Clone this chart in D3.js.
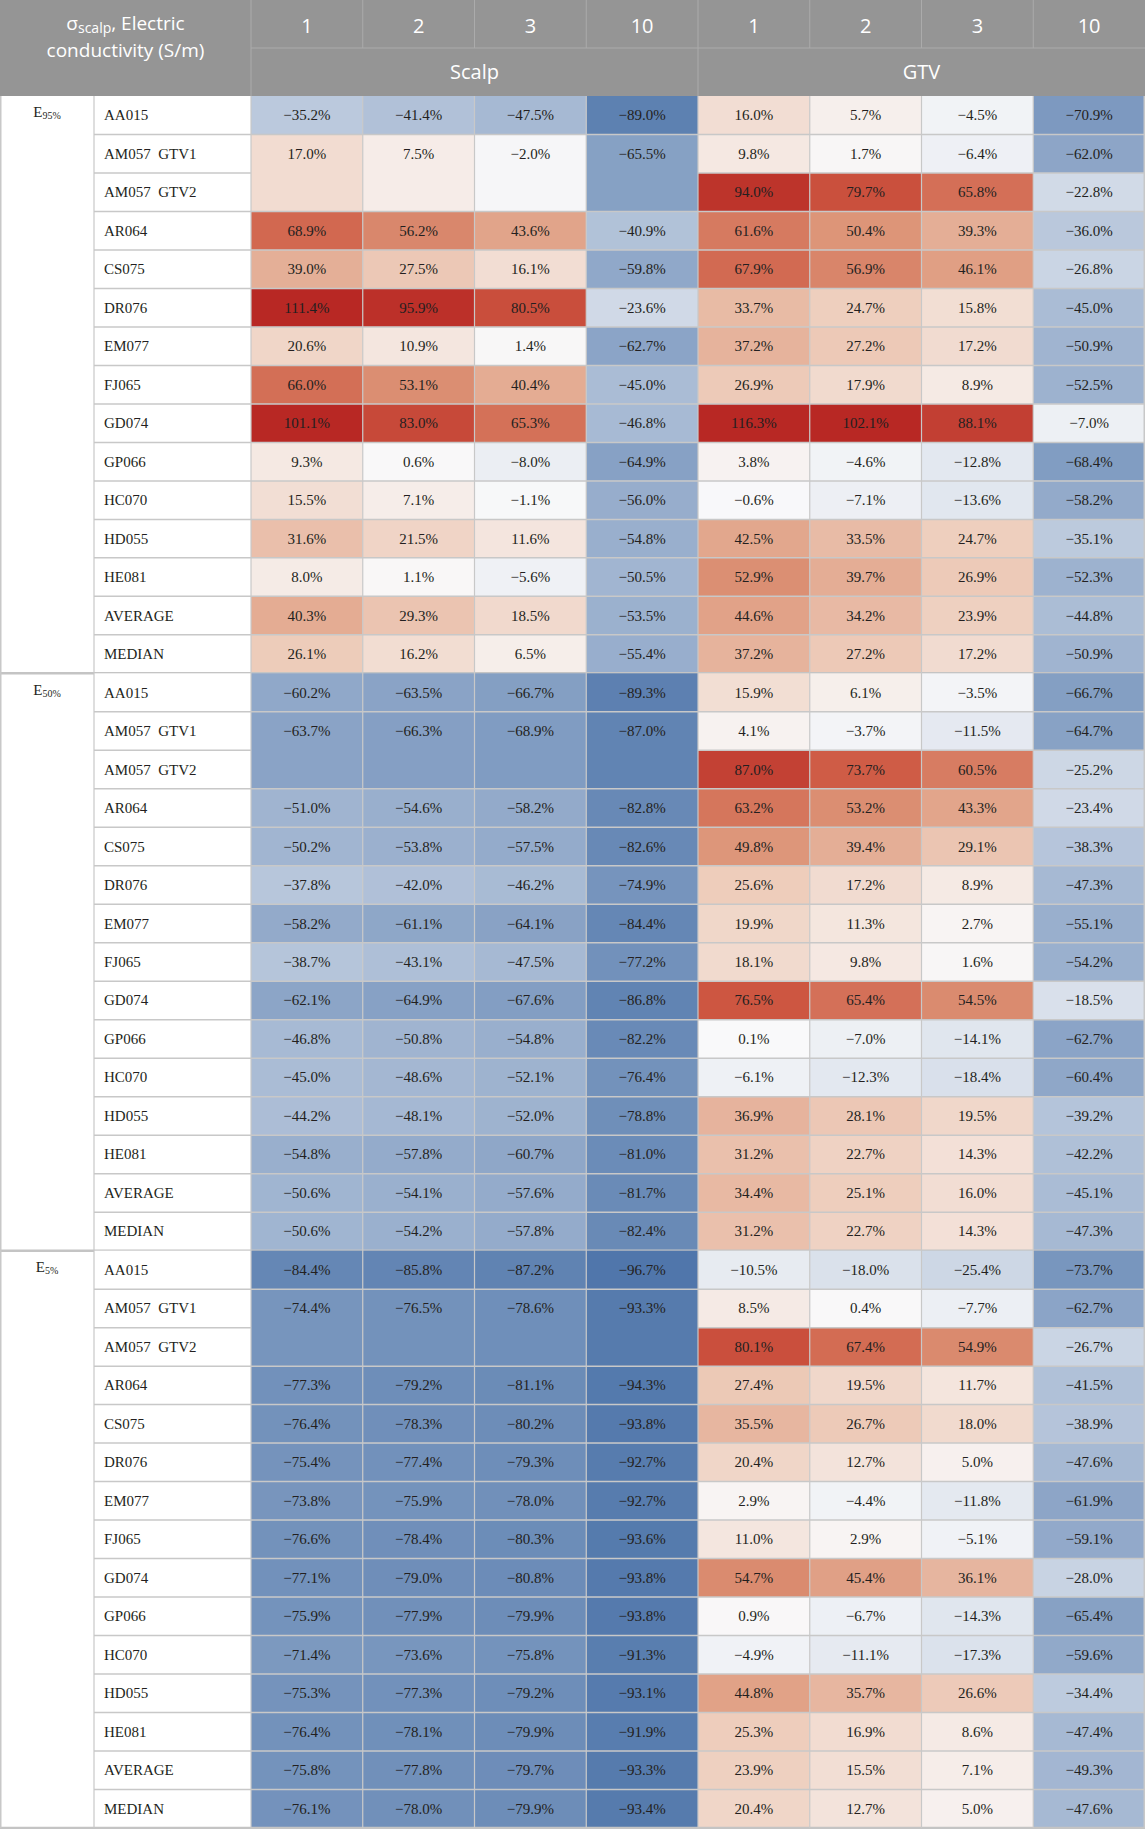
<!DOCTYPE html>
<html><head><meta charset="utf-8">
<script src="https://cdn.jsdelivr.net/npm/d3@7/dist/d3.min.js"></script>
<style>body{margin:0;background:#fff;}svg{display:block;}</style>
</head><body>
<svg id="chart" width="1145" height="1829"></svg>
<script>
const groups = ["95%", "50%", "5%"];
const rowLabels = ["AA015","AM057  GTV1","AM057  GTV2","AR064","CS075","DR076","EM077","FJ065","GD074","GP066","HC070","HD055","HE081","AVERAGE","MEDIAN"];
const conductivities = ["1","2","3","10"];
const regions = ["Scalp","GTV"];

// Scalp: 14 rows (AM057 shared by GTV1 and GTV2)
const scalp95 = [[-35.2,-41.4,-47.5,-89.0],[17.0,7.5,-2.0,-65.5],[68.9,56.2,43.6,-40.9],[39.0,27.5,16.1,-59.8],[111.4,95.9,80.5,-23.6],[20.6,10.9,1.4,-62.7],[66.0,53.1,40.4,-45.0],[101.1,83.0,65.3,-46.8],[9.3,0.6,-8.0,-64.9],[15.5,7.1,-1.1,-56.0],[31.6,21.5,11.6,-54.8],[8.0,1.1,-5.6,-50.5],[40.3,29.3,18.5,-53.5],[26.1,16.2,6.5,-55.4]];
const gtv95 = [[16.0,5.7,-4.5,-70.9],[9.8,1.7,-6.4,-62.0],[94.0,79.7,65.8,-22.8],[61.6,50.4,39.3,-36.0],[67.9,56.9,46.1,-26.8],[33.7,24.7,15.8,-45.0],[37.2,27.2,17.2,-50.9],[26.9,17.9,8.9,-52.5],[116.3,102.1,88.1,-7.0],[3.8,-4.6,-12.8,-68.4],[-0.6,-7.1,-13.6,-58.2],[42.5,33.5,24.7,-35.1],[52.9,39.7,26.9,-52.3],[44.6,34.2,23.9,-44.8],[37.2,27.2,17.2,-50.9]];
const scalp50 = [[-60.2,-63.5,-66.7,-89.3],[-63.7,-66.3,-68.9,-87.0],[-51.0,-54.6,-58.2,-82.8],[-50.2,-53.8,-57.5,-82.6],[-37.8,-42.0,-46.2,-74.9],[-58.2,-61.1,-64.1,-84.4],[-38.7,-43.1,-47.5,-77.2],[-62.1,-64.9,-67.6,-86.8],[-46.8,-50.8,-54.8,-82.2],[-45.0,-48.6,-52.1,-76.4],[-44.2,-48.1,-52.0,-78.8],[-54.8,-57.8,-60.7,-81.0],[-50.6,-54.1,-57.6,-81.7],[-50.6,-54.2,-57.8,-82.4]];
const gtv50 = [[15.9,6.1,-3.5,-66.7],[4.1,-3.7,-11.5,-64.7],[87.0,73.7,60.5,-25.2],[63.2,53.2,43.3,-23.4],[49.8,39.4,29.1,-38.3],[25.6,17.2,8.9,-47.3],[19.9,11.3,2.7,-55.1],[18.1,9.8,1.6,-54.2],[76.5,65.4,54.5,-18.5],[0.1,-7.0,-14.1,-62.7],[-6.1,-12.3,-18.4,-60.4],[36.9,28.1,19.5,-39.2],[31.2,22.7,14.3,-42.2],[34.4,25.1,16.0,-45.1],[31.2,22.7,14.3,-47.3]];
const scalp5 = [[-84.4,-85.8,-87.2,-96.7],[-74.4,-76.5,-78.6,-93.3],[-77.3,-79.2,-81.1,-94.3],[-76.4,-78.3,-80.2,-93.8],[-75.4,-77.4,-79.3,-92.7],[-73.8,-75.9,-78.0,-92.7],[-76.6,-78.4,-80.3,-93.6],[-77.1,-79.0,-80.8,-93.8],[-75.9,-77.9,-79.9,-93.8],[-71.4,-73.6,-75.8,-91.3],[-75.3,-77.3,-79.2,-93.1],[-76.4,-78.1,-79.9,-91.9],[-75.8,-77.8,-79.7,-93.3],[-76.1,-78.0,-79.9,-93.4]];
const gtv5 = [[-10.5,-18.0,-25.4,-73.7],[8.5,0.4,-7.7,-62.7],[80.1,67.4,54.9,-26.7],[27.4,19.5,11.7,-41.5],[35.5,26.7,18.0,-38.9],[20.4,12.7,5.0,-47.6],[2.9,-4.4,-11.8,-61.9],[11.0,2.9,-5.1,-59.1],[54.7,45.4,36.1,-28.0],[0.9,-6.7,-14.3,-65.4],[-4.9,-11.1,-17.3,-59.6],[44.8,35.7,26.6,-34.4],[25.3,16.9,8.6,-47.4],[23.9,15.5,7.1,-49.3],[20.4,12.7,5.0,-47.6]];

const scalpData = [scalp95, scalp50, scalp5];
const gtvData = [gtv95, gtv50, gtv5];

const W = 1145, H = 1829;
const headerH = 96, groupColW = 94, labelColW = 251;
const svg = d3.select("#chart");

const colKeys = [];
regions.forEach(r => conductivities.forEach(c => colKeys.push(r + "|" + c)));
const x = d3.scaleBand().domain(colKeys).range([labelColW, W]);
const nRows = groups.length * rowLabels.length;
const y = d3.scaleBand().domain(d3.range(nRows)).range([headerH, 1828]);
const color = d3.scaleLinear()
  .domain([-100, 0, 25, 50, 75, 100])
  .range(["#4a72a8", "#f9f9fa", "#eecebd", "#dd9679", "#ce5943", "#b82824"])
  .clamp(true);

const serif = "'Liberation Serif','Times New Roman',serif";
const sans = "'Open Sans','Noto Sans',sans-serif";
const fmt = v => (v < 0 ? "\u2212" + Math.abs(v).toFixed(1) : v.toFixed(1)) + "%";

// Header
const hdr = svg.append("g");
hdr.append("rect").attr("x", 0).attr("y", 0).attr("width", W).attr("height", headerH).attr("fill", "#959595");
const hLine = "#ababab";
colKeys.forEach(k => {
  hdr.append("text").attr("x", x(k) + x.bandwidth() / 2).attr("y", 33)
    .attr("text-anchor", "middle").attr("fill", "#fff").attr("font-family", sans).attr("font-size", 20)
    .text(k.split("|")[1]);
  hdr.append("line").attr("x1", x(k)).attr("x2", x(k)).attr("y1", 0).attr("y2", 48).attr("stroke", hLine).attr("stroke-width", 1);
});
hdr.append("line").attr("x1", labelColW).attr("x2", W).attr("y1", 48).attr("y2", 48).attr("stroke", hLine).attr("stroke-width", 1);
regions.forEach(r => {
  const x0 = x(r + "|" + conductivities[0]);
  const x1 = x(r + "|" + conductivities[conductivities.length - 1]) + x.bandwidth();
  hdr.append("line").attr("x1", x0).attr("x2", x0).attr("y1", 48).attr("y2", headerH).attr("stroke", hLine).attr("stroke-width", 1);
  hdr.append("text").attr("x", (x0 + x1) / 2).attr("y", 79)
    .attr("text-anchor", "middle").attr("fill", "#fff").attr("font-family", sans).attr("font-size", 20)
    .text(r);
});
// title: separate pieces laid out side by side
const pieces = [
  {t: "\u03c3", size: 19, dy: 0},
  {t: "scalp", size: 14, dy: 3},
  {t: ", Electric", size: 19, dy: 0}
];
const nodes = pieces.map(p => hdr.append("text").attr("y", 30 + p.dy).attr("fill", "#fff")
  .attr("font-family", sans).attr("font-size", p.size).attr("xml:space", "preserve").text(p.t));
const widths = nodes.map(n => n.node().getComputedTextLength());
let cx = labelColW / 2 - d3.sum(widths) / 2;
nodes.forEach((n, i) => { n.attr("x", cx); cx += widths[i]; });
hdr.append("text").attr("x", labelColW / 2).attr("y", 57).attr("text-anchor", "middle")
  .attr("fill", "#fff").attr("font-family", sans).attr("font-size", 19).text("conductivity (S/m)");

// Body
const body = svg.append("g");
const cellLine = "#c8c8c8";
const textColor = "#231f20";

groups.forEach((g, gi) => {
  const base = gi * rowLabels.length;
  const gy0 = y(base), gy1 = y(base + rowLabels.length - 1) + y.bandwidth();
  rowLabels.forEach((lab, ri) => {
    body.append("rect").attr("x", groupColW).attr("y", y(base + ri)).attr("width", labelColW - groupColW)
      .attr("height", y.bandwidth()).attr("fill", "#fff");
    body.append("text").attr("x", groupColW + 10).attr("y", y(base + ri) + y.bandwidth() / 2 + 5)
      .attr("font-family", serif).attr("font-size", 15).attr("fill", textColor).attr("xml:space", "preserve")
      .text(lab);
  });
  scalpData[gi].forEach((row, i) => {
    const ri = i < 2 ? i : i + 1;
    const span = i === 1 ? 2 : 1;
    row.forEach((v, ci) => {
      const k = "Scalp|" + conductivities[ci];
      body.append("rect").attr("x", x(k)).attr("y", y(base + ri)).attr("width", x.bandwidth())
        .attr("height", y.bandwidth() * span).attr("fill", color(v));
      body.append("text").attr("x", x(k) + x.bandwidth() / 2).attr("y", y(base + ri) + y.bandwidth() / 2 + 5)
        .attr("text-anchor", "middle").attr("font-family", serif).attr("font-size", 15).attr("fill", textColor)
        .text(fmt(v));
    });
  });
  gtvData[gi].forEach((row, ri) => {
    row.forEach((v, ci) => {
      const k = "GTV|" + conductivities[ci];
      body.append("rect").attr("x", x(k)).attr("y", y(base + ri)).attr("width", x.bandwidth())
        .attr("height", y.bandwidth()).attr("fill", color(v));
      body.append("text").attr("x", x(k) + x.bandwidth() / 2).attr("y", y(base + ri) + y.bandwidth() / 2 + 5)
        .attr("text-anchor", "middle").attr("font-family", serif).attr("font-size", 15).attr("fill", textColor)
        .text(fmt(v));
    });
  });
  for (let ri = 1; ri < rowLabels.length; ri++) {
    const yy = y(base + ri);
    body.append("line").attr("x1", groupColW).attr("x2", labelColW).attr("y1", yy).attr("y2", yy)
      .attr("stroke", cellLine).attr("stroke-width", 1.5);
    if (ri !== 2) {
      body.append("line").attr("x1", labelColW).attr("x2", x("GTV|1")).attr("y1", yy).attr("y2", yy)
        .attr("stroke", cellLine).attr("stroke-width", 1.5);
    }
    body.append("line").attr("x1", x("GTV|1")).attr("x2", W).attr("y1", yy).attr("y2", yy)
      .attr("stroke", cellLine).attr("stroke-width", 1.5);
  }
  const gE = body.append("text").attr("y", gy0 + y.bandwidth() / 2 + 2)
    .attr("font-family", serif).attr("font-size", 15).attr("fill", textColor).text("E");
  const gS = body.append("text").attr("y", gy0 + y.bandwidth() / 2 + 4)
    .attr("font-family", serif).attr("font-size", 10).attr("fill", textColor).text(g);
  const wE = gE.node().getComputedTextLength(), wS = gS.node().getComputedTextLength();
  const sx = groupColW / 2 - (wE + wS) / 2;
  gE.attr("x", sx); gS.attr("x", sx + wE);
  body.append("line").attr("x1", 0).attr("x2", W).attr("y1", gy1).attr("y2", gy1)
    .attr("stroke", "#c4c4c4").attr("stroke-width", 2.5);
});

const vx = [groupColW, labelColW].concat(colKeys.map(k => x(k)).slice(1));
vx.forEach(xx => {
  body.append("line").attr("x1", xx).attr("x2", xx).attr("y1", headerH).attr("y2", 1828)
    .attr("stroke", cellLine).attr("stroke-width", 1.2);
});
body.append("line").attr("x1", 0.75).attr("x2", 0.75).attr("y1", headerH).attr("y2", 1828).attr("stroke", cellLine).attr("stroke-width", 1.5);
body.append("line").attr("x1", W - 0.75).attr("x2", W - 0.75).attr("y1", headerH).attr("y2", 1828).attr("stroke", cellLine).attr("stroke-width", 1.5);
</script>
</body></html>
